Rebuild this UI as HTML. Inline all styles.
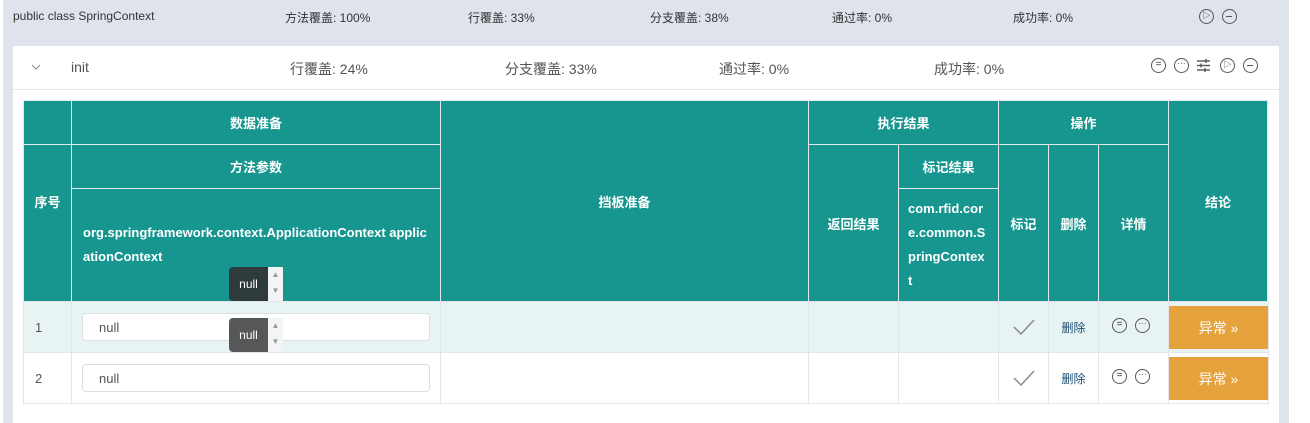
<!DOCTYPE html>
<html><head><meta charset="utf-8"><style>
*{box-sizing:border-box;margin:0;padding:0}
body{width:1310px;height:423px;position:relative;overflow:hidden;background:#fff;font-family:"Liberation Sans","Noto Sans CJK SC",sans-serif;color:#333}
.a{position:absolute}
.t{position:absolute;white-space:nowrap}
.c{position:absolute;background:#17968f;border:1px solid #e4eaee;color:#fff;font-weight:bold;font-size:13px;display:flex;align-items:center;justify-content:center;text-align:center}
.d{position:absolute;border:1px solid #e1e6eb;display:flex;align-items:center;justify-content:center;font-size:13px}
.ic{position:absolute;width:15px;height:15px;border:1.4px solid #555;border-radius:50%}
.btn{position:absolute;background:#e6a23c;color:#fff;font-size:14px;display:flex;align-items:center;justify-content:center}
.inp{position:absolute;border:1px solid #dcdfe6;border-radius:4px;background:#fff;font-size:13px;color:#555;padding-left:16px;display:flex;align-items:center}
.tip{position:absolute;width:39px;height:34px;border-radius:4px 0 0 4px;color:#fff;font-size:12px;display:flex;align-items:center;justify-content:center}
.sp{position:absolute;width:15px;height:34px;background:#f2f4f5;color:#999;font-size:8px;text-align:center;line-height:16px}
</style></head><body>
<div class="a" style="left:3px;top:0;width:1286px;height:423px;background:#dfe3ec"></div>
<div class="t" style="left:13px;top:9px;font-size:12px">public class SpringContext</div>
<div class="t" style="left:285px;top:9px;font-size:12px">方法覆盖: 100%</div>
<div class="t" style="left:468px;top:9px;font-size:12px">行覆盖: 33%</div>
<div class="t" style="left:650px;top:9px;font-size:12px">分支覆盖: 38%</div>
<div class="t" style="left:832px;top:9px;font-size:12px">通过率: 0%</div>
<div class="t" style="left:1013px;top:9px;font-size:12px">成功率: 0%</div>
<div class="ic" style="left:1199px;top:9px;font-size:8px;line-height:12px;text-align:center">▷</div>
<div class="ic" style="left:1222px;top:9px"><div class="a" style="left:3px;top:6px;width:6px;height:1.4px;background:#555"></div></div>

<div class="a" style="left:13px;top:46px;width:1266px;height:377px;background:#fff"></div>
<div class="a" style="left:13px;top:89px;width:1266px;height:1px;background:#e4e7ed"></div>
<svg class="a" style="left:31px;top:64px" width="10" height="6"><path d="M1 1 L5 5 L9 1" stroke="#888" fill="none"/></svg>
<div class="t" style="left:71px;top:59px;font-size:14px;color:#555">init</div>
<div class="t" style="left:290px;top:59px;font-size:14px;color:#555">行覆盖: 24%</div>
<div class="t" style="left:505px;top:59px;font-size:14px;color:#555">分支覆盖: 33%</div>
<div class="t" style="left:719px;top:59px;font-size:14px;color:#555">通过率: 0%</div>
<div class="t" style="left:934px;top:59px;font-size:14px;color:#555">成功率: 0%</div>
<div class="ic" style="left:1151px;top:58px;font-size:10px;line-height:12px;text-align:center">=</div>
<div class="ic" style="left:1174px;top:58px;font-size:8px;line-height:9px;text-align:center">···</div>
<svg class="a" style="left:1196px;top:58px" width="15" height="15"><g stroke="#555" stroke-width="1.4"><line x1="1" y1="3" x2="14" y2="3"/><line x1="1" y1="7.5" x2="14" y2="7.5"/><line x1="1" y1="12" x2="14" y2="12"/><line x1="10" y1="1" x2="10" y2="5"/><line x1="5" y1="5.5" x2="5" y2="9.5"/><line x1="9" y1="10" x2="9" y2="14"/></g></svg>
<div class="ic" style="left:1220px;top:58px;font-size:8px;line-height:12px;text-align:center">▷</div>
<div class="ic" style="left:1243px;top:58px"><div class="a" style="left:3px;top:6px;width:6px;height:1.4px;background:#555"></div></div>

<div class="c" style="left:23px;top:100px;width:49px;height:45px"></div>
<div class="c" style="left:71px;top:100px;width:370px;height:45px">数据准备</div>
<div class="c" style="left:440px;top:100px;width:369px;height:202px">挡板准备</div>
<div class="c" style="left:808px;top:100px;width:191px;height:45px">执行结果</div>
<div class="c" style="left:998px;top:100px;width:171px;height:45px">操作</div>
<div class="c" style="left:1168px;top:100px;width:100px;height:202px">结论</div>
<div class="c" style="left:23px;top:144px;width:49px;height:158px;align-items:flex-start;padding-top:47px">序号</div>
<div class="c" style="left:71px;top:144px;width:370px;height:45px">方法参数</div>
<div class="c" style="left:808px;top:144px;width:91px;height:158px">返回结果</div>
<div class="c" style="left:898px;top:144px;width:101px;height:45px">标记结果</div>
<div class="c" style="left:998px;top:144px;width:51px;height:158px">标记</div>
<div class="c" style="left:1048px;top:144px;width:51px;height:158px">删除</div>
<div class="c" style="left:1098px;top:144px;width:71px;height:158px">详情</div>
<div class="c" style="left:71px;top:188px;width:370px;height:114px;justify-content:flex-start;text-align:left;padding:0 12px 0 11px;line-height:24px;word-break:break-all">org.springframework.context.ApplicationContext applicationContext</div>
<div class="c" style="left:898px;top:188px;width:101px;height:114px;justify-content:flex-start;text-align:left;padding:0 12px 0 9px;line-height:24px;word-break:break-all">com.rfid.core.common.SpringContext</div>

<div class="a" style="left:23px;top:301px;width:1246px;height:52px;background:#e8f4f4"></div>
<div class="d" style="left:23px;top:301px;width:49px;height:52px;justify-content:flex-start;padding-left:11px;color:#555">1</div>
<div class="d" style="left:71px;top:301px;width:370px;height:52px"></div>
<div class="d" style="left:440px;top:301px;width:369px;height:52px"></div>
<div class="d" style="left:808px;top:301px;width:91px;height:52px"></div>
<div class="d" style="left:898px;top:301px;width:101px;height:52px"></div>
<div class="d" style="left:998px;top:301px;width:51px;height:52px"><svg width="22" height="16"><path d="M1 8 L8 15 L21 1" stroke="#8a8a8a" stroke-width="1.5" fill="none"/></svg></div>
<div class="d" style="left:1048px;top:301px;width:51px;height:52px;font-size:12px;color:#1c4f74">删除</div>
<div class="d" style="left:1098px;top:301px;width:71px;height:52px"></div>
<div class="d" style="left:1168px;top:301px;width:101px;height:52px"></div>
<div class="inp" style="left:82px;top:313px;width:348px;height:28px">null</div>
<div class="ic" style="left:1112px;top:318px;font-size:10px;line-height:12px;text-align:center">=</div>
<div class="ic" style="left:1135px;top:318px;font-size:8px;line-height:9px;text-align:center">···</div>
<div class="btn" style="left:1169px;top:306px;width:99px;height:43px">异常 »</div>

<div class="d" style="left:23px;top:352px;width:49px;height:52px;justify-content:flex-start;padding-left:11px;color:#555">2</div>
<div class="d" style="left:71px;top:352px;width:370px;height:52px"></div>
<div class="d" style="left:440px;top:352px;width:369px;height:52px"></div>
<div class="d" style="left:808px;top:352px;width:91px;height:52px"></div>
<div class="d" style="left:898px;top:352px;width:101px;height:52px"></div>
<div class="d" style="left:998px;top:352px;width:51px;height:52px"><svg width="22" height="16"><path d="M1 8 L8 15 L21 1" stroke="#8a8a8a" stroke-width="1.5" fill="none"/></svg></div>
<div class="d" style="left:1048px;top:352px;width:51px;height:52px;font-size:12px;color:#1c4f74">删除</div>
<div class="d" style="left:1098px;top:352px;width:71px;height:52px"></div>
<div class="d" style="left:1168px;top:352px;width:101px;height:52px"></div>
<div class="inp" style="left:82px;top:364px;width:348px;height:28px">null</div>
<div class="ic" style="left:1112px;top:369px;font-size:10px;line-height:12px;text-align:center">=</div>
<div class="ic" style="left:1135px;top:369px;font-size:8px;line-height:9px;text-align:center">···</div>
<div class="btn" style="left:1169px;top:357px;width:99px;height:43px">异常 »</div>

<div class="tip" style="left:229px;top:267px;background:#2f3a3c">null</div>
<div class="sp" style="left:268px;top:267px">▲<br>▼</div>
<div class="tip" style="left:229px;top:318px;background:#555758">null</div>
<div class="sp" style="left:268px;top:318px">▲<br>▼</div>
</body></html>
